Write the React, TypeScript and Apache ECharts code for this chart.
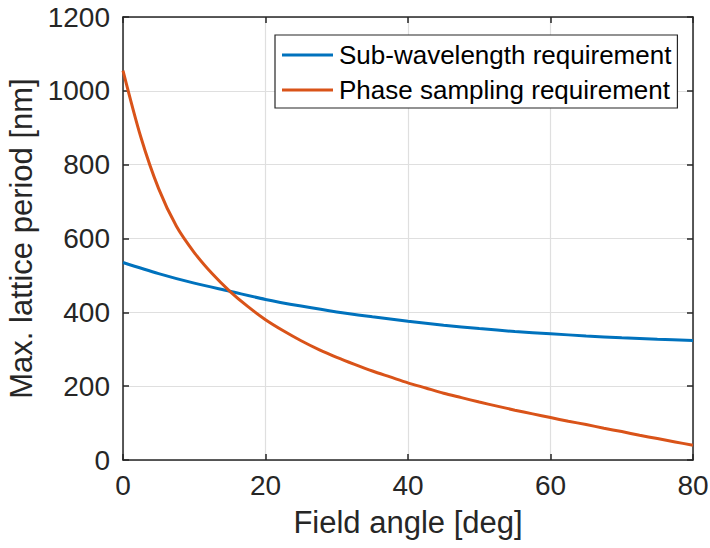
import React, { useEffect, useRef } from "react";
import * as echarts from "echarts";

const blueAngles = [0, 5, 10, 15, 20, 25, 30, 35, 40, 45, 50, 55, 60, 65, 70, 75, 80];
const blueValues = [535, 505, 479, 457, 435, 417, 401, 388, 376, 365, 356, 348, 342, 336, 331, 327, 324];

const orangeAngles = [0, 2.5, 5, 7.5, 10, 12.5, 15, 17.5, 20, 22.5, 25, 27.5, 30, 32.5, 35, 37.5, 40, 42.5, 45, 47.5, 50, 52.5, 55, 57.5, 60, 62.5, 65, 67.5, 70, 72.5, 75, 77.5, 80];
const orangeValues = [1055, 875, 735, 633, 562, 505, 457, 416, 380, 350, 323, 299, 278, 259, 241, 225, 209, 195, 181, 169, 157, 146, 135, 125, 115, 105, 96, 86, 77, 67, 58, 49, 40];

const seriesNames = ["Sub-wavelength requirement", "Phase sampling requirement"];
const xTicks = [0, 20, 40, 60, 80];
const yTicks = [0, 200, 400, 600, 800, 1000, 1200];

const FONT = "'Liberation Sans', Arial, Helvetica, sans-serif";
const TXT = "#262626";
const GRID = "#dfdfdf";

export default function App() {
  const ref = useRef<HTMLDivElement>(null);
  useEffect(() => {
    if (!ref.current) return;
    const chart = echarts.init(ref.current, undefined, { renderer: "svg" });
    const xMin = xTicks[0], xMax = xTicks[xTicks.length - 1];
    const yMin = yTicks[0], yMax = yTicks[yTicks.length - 1];
    const common = {
      axisLine: { show: true, onZero: false, lineStyle: { color: TXT, width: 1.5 } },
      axisTick: { show: true, inside: true, length: 6, lineStyle: { color: TXT, width: 1.5 } },
    };
    chart.setOption({
      animation: false,
      textStyle: { fontFamily: FONT },
      grid: { left: 123, right: 17, top: 17, bottom: 88, containLabel: false, outerBoundsMode: "none" },
      legend: {
        orient: "vertical",
        left: 275,
        top: 35,
        padding: [7, 6, 5, 7],
        itemWidth: 51,
        itemHeight: 3,
        itemGap: 9,
        icon: "rect",
        borderColor: TXT,
        borderWidth: 1.2,
        backgroundColor: "#ffffff",
        textStyle: { fontSize: 26, color: "#000000", fontFamily: FONT, padding: [0, 0, 0, 1] },
        data: seriesNames,
      },
      xAxis: [
        {
          type: "value",
          min: xMin,
          max: xMax,
          interval: 20,
          name: "Field angle [deg]",
          nameLocation: "middle",
          nameGap: 47,
          nameTextStyle: { fontSize: 31, color: TXT, fontFamily: FONT, verticalAlign: "top" },
          axisLabel: { fontSize: 28, color: TXT, margin: 11, fontFamily: FONT, formatter: (v: number) => String(v) },
          splitLine: { show: true, lineStyle: { color: GRID, width: 1.2 } },
          ...common,
        },
        {
          type: "value",
          position: "top",
          min: xMin,
          max: xMax,
          interval: 20,
          axisLabel: { show: false },
          splitLine: { show: false },
          ...common,
        },
      ],
      yAxis: [
        {
          type: "value",
          min: yMin,
          max: yMax,
          interval: 200,
          name: "Max. lattice period [nm]",
          nameLocation: "middle",
          nameGap: 65,
          nameRotate: 90,
          nameTextStyle: { fontSize: 31, color: TXT, fontFamily: FONT },
          axisLabel: { fontSize: 28, color: TXT, margin: 13, fontFamily: FONT, formatter: (v: number) => String(v) },
          splitLine: { show: true, lineStyle: { color: GRID, width: 1.2 } },
          ...common,
        },
        {
          type: "value",
          position: "right",
          min: yMin,
          max: yMax,
          interval: 200,
          axisLabel: { show: false },
          splitLine: { show: false },
          ...common,
        },
      ],
      series: [
        {
          name: seriesNames[0],
          type: "line",
          data: blueAngles.map((a, i) => [a, blueValues[i]]),
          smooth: 0.3,
          showSymbol: false,
          symbol: "none",
          lineStyle: { color: "#0072BD", width: 3 },
          itemStyle: { color: "#0072BD" },
          z: 3,
        },
        {
          name: seriesNames[1],
          type: "line",
          data: orangeAngles.map((a, i) => [a, orangeValues[i]]),
          smooth: 0.3,
          showSymbol: false,
          symbol: "none",
          lineStyle: { color: "#D95319", width: 3 },
          itemStyle: { color: "#D95319" },
          z: 4,
        },
      ],
    });
    return () => chart.dispose();
  }, []);
  return <div ref={ref} style={{ width: 710, height: 548, position: "absolute", left: 0, top: 0, background: "#fff" }} />;
}
